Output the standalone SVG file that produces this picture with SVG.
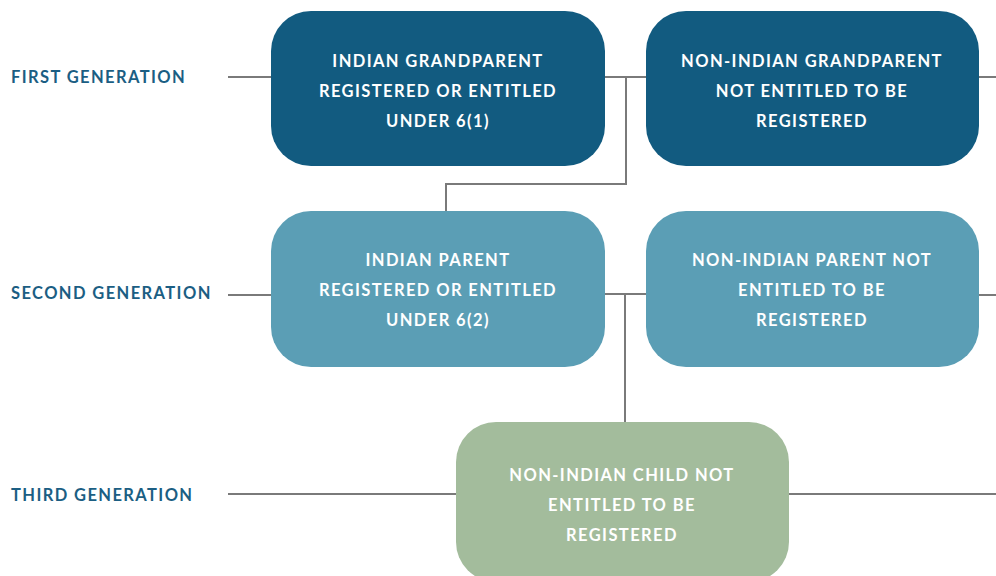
<svg xmlns="http://www.w3.org/2000/svg" width="996" height="576" viewBox="0 0 996 576">
<style>
.lbl{font-family:Lato,"Open Sans","Liberation Sans",sans-serif;font-weight:bold;font-size:16.5px;fill:#1b5e83;letter-spacing:1.4px}
.bt{font-family:Lato,"Open Sans","Liberation Sans",sans-serif;font-weight:bold;font-size:16.5px;fill:#ffffff;text-anchor:middle;letter-spacing:1.4px}
.ln{stroke:#7a7a7a;stroke-width:2;fill:none}
.g1{fill:#125b80}
.g2{fill:#5b9eb5}
.g3{fill:#a3bc9c}
</style>
<rect width="996" height="576" fill="#ffffff"/>
<g id="connectors">
<line class="ln" x1="228" y1="77" x2="271" y2="77"/>
<line class="ln" x1="605" y1="77" x2="646" y2="77"/>
<line class="ln" x1="979" y1="77" x2="996" y2="77"/>
<polyline class="ln" points="626,77 626,184 446,184 446,211"/>
<line class="ln" x1="228" y1="295" x2="271" y2="295"/>
<line class="ln" x1="605" y1="294" x2="646" y2="294"/>
<line class="ln" x1="979" y1="295" x2="996" y2="295"/>
<line class="ln" x1="625" y1="294" x2="625" y2="422"/>
<line class="ln" x1="228" y1="494" x2="456" y2="494"/>
<line class="ln" x1="789" y1="494" x2="996" y2="494"/>
</g>
<g id="labels">
<text class="lbl" x="11" y="83">FIRST GENERATION</text>
<text class="lbl" x="11" y="299">SECOND GENERATION</text>
<text class="lbl" x="11" y="501">THIRD GENERATION</text>
</g>
<g id="indian-grandparent">
<rect class="g1" x="271" y="11" width="334" height="155" rx="40"/>
<text class="bt" x="438" y="67">INDIAN GRANDPARENT</text>
<text class="bt" x="438" y="97">REGISTERED OR ENTITLED</text>
<text class="bt" x="438" y="127">UNDER 6(1)</text>
</g>
<g id="nonindian-grandparent">
<rect class="g1" x="646" y="11" width="333" height="155" rx="40"/>
<text class="bt" x="812" y="67">NON-INDIAN GRANDPARENT</text>
<text class="bt" x="812" y="97">NOT ENTITLED TO BE</text>
<text class="bt" x="812" y="127">REGISTERED</text>
</g>
<g id="indian-parent">
<rect class="g2" x="271" y="211" width="334" height="156" rx="40"/>
<text class="bt" x="438" y="266">INDIAN PARENT</text>
<text class="bt" x="438" y="296">REGISTERED OR ENTITLED</text>
<text class="bt" x="438" y="326">UNDER 6(2)</text>
</g>
<g id="nonindian-parent">
<rect class="g2" x="646" y="211" width="333" height="156" rx="40"/>
<text class="bt" x="812" y="266">NON-INDIAN PARENT NOT</text>
<text class="bt" x="812" y="296">ENTITLED TO BE</text>
<text class="bt" x="812" y="326">REGISTERED</text>
</g>
<g id="nonindian-child">
<rect class="g3" x="456" y="422" width="333" height="160" rx="40"/>
<text class="bt" x="622" y="481">NON-INDIAN CHILD NOT</text>
<text class="bt" x="622" y="511">ENTITLED TO BE</text>
<text class="bt" x="622" y="541">REGISTERED</text>
</g>
</svg>
